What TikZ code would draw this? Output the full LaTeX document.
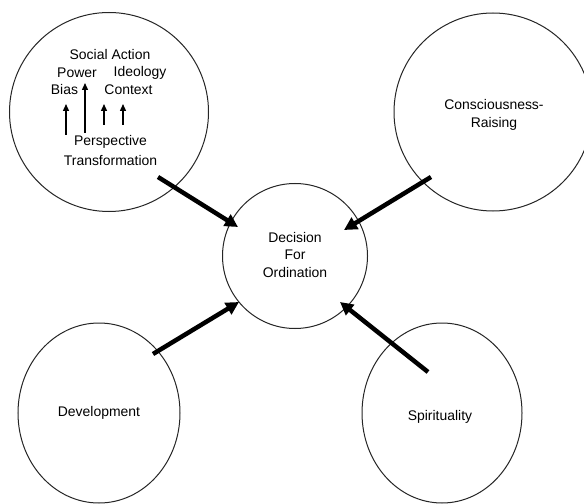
\documentclass[tikz,border=0pt]{standalone}
\usepackage{fontspec}
\setmainfont{Liberation Sans}
\usetikzlibrary{arrows.meta,shapes.geometric}
\begin{document}
\begin{tikzpicture}[x=1bp,y=-1bp,
  bubble/.style={draw=black!85, line width=1bp, circle, inner sep=0pt},
  oval/.style={draw=black!85, line width=1bp, ellipse, inner sep=0pt},
  lbl/.style={font=\fontsize{14}{17.5}\selectfont, align=center, inner sep=0pt},
  bigarrow/.style={line width=4.5bp, -{Triangle[length=13bp,width=13bp]}},
  smallarrow/.style={line width=1.4bp, -{Triangle[length=7bp,width=6bp]}}
]
\useasboundingbox (0,0) rectangle (584,504);
\fill[white] (0,0) rectangle (584,504);
\begin{scope}
\clip (0,0) rectangle (584,504);
% circles
\node[bubble, minimum size=199bp] (tl) at (109,112) {};
\node[bubble, minimum size=198bp] (tr) at (493,112) {};
\node[bubble, minimum size=145bp] (dec) at (295,256) {};
\node[oval, minimum width=162bp, minimum height=180bp] (bl) at (99,413) {};
\node[oval, minimum width=160bp, minimum height=180bp] (br) at (442,413) {};
\end{scope}
% labels
\node[lbl] (dect) at (295,255) {Decision\\For\\Ordination};
\node[lbl] (crt) at (494,115) {Consciousness-\\Raising};
\node[lbl] (devt) at (99,413) {Development};
\node[lbl] (spit) at (440,417) {Spirituality};
% inner labels of top-left circle
\node[lbl] (soc) at (110,55) {Social Action};
\node[lbl] (pow) at (77,73) {Power};
\node[lbl] (ide) at (140,73) {Ideology};
\node[lbl] (bia) at (64.5,90) {Bias};
\node[lbl] (con) at (128.5,90) {Context};
\node[lbl] (per) at (110.5,142) {Perspective};
\node[lbl] (tra) at (110.5,161) {Transformation};
% small arrows
\coordinate (s1a) at (66,135);  \coordinate (s1b) at (66,104);
\coordinate (s2a) at (85,133);  \coordinate (s2b) at (85,83);
\coordinate (s3a) at (104,125); \coordinate (s3b) at (104,104);
\coordinate (s4a) at (123,125); \coordinate (s4b) at (123,104);
\draw[smallarrow] (s1a) -- (s1b);
\draw[smallarrow] (s2a) -- (s2b);
\draw[smallarrow] (s3a) -- (s3b);
\draw[smallarrow] (s4a) -- (s4b);
% big arrows
\coordinate (a1s) at (158,177); \coordinate (a1e) at (238,227);
\coordinate (a2s) at (431,177); \coordinate (a2e) at (344,230);
\coordinate (a3s) at (153,354); \coordinate (a3e) at (239,302);
\coordinate (a4s) at (428,372); \coordinate (a4e) at (340,302);
\draw[bigarrow] (a1s) -- (a1e);
\draw[bigarrow] (a2s) -- (a2e);
\draw[bigarrow] (a3s) -- (a3e);
\draw[bigarrow] (a4s) -- (a4e);
\end{tikzpicture}
\end{document}
